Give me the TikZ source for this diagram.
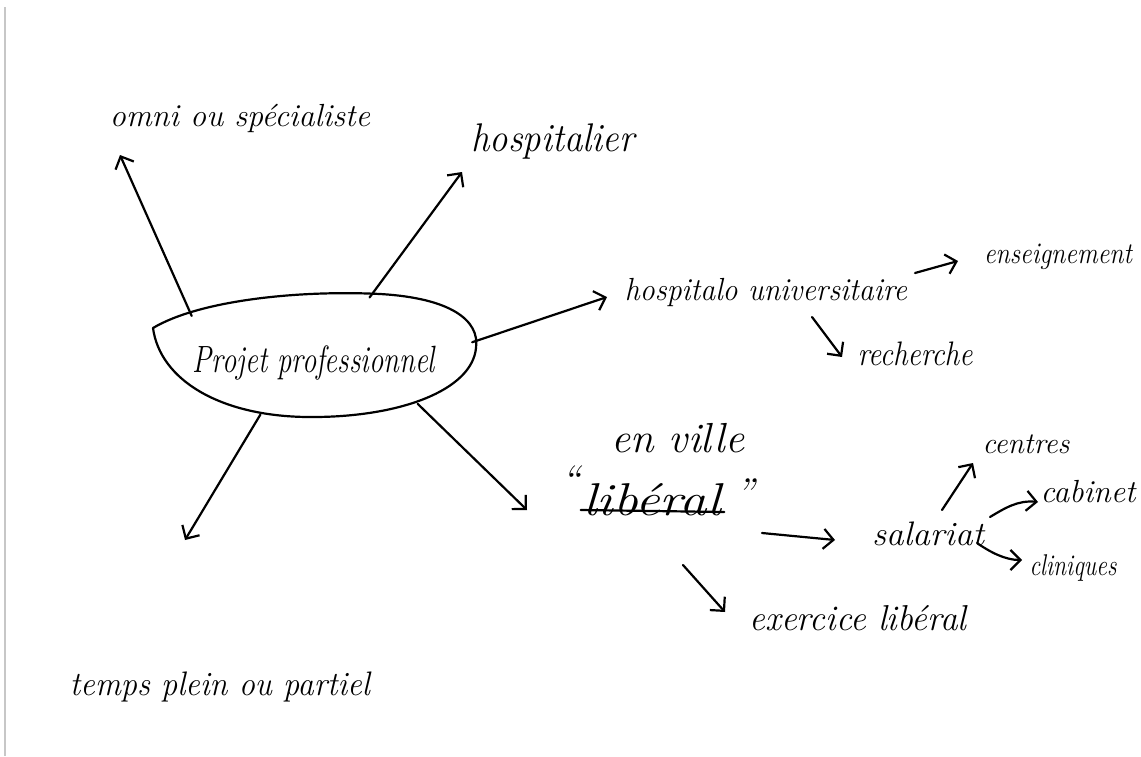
\documentclass[tikz,border=0pt]{standalone}
\usepackage{fontspec}
\usepackage{graphicx}
\usetikzlibrary{arrows.meta,calc,shapes.geometric}
% hand-lettered words: italic at a given size, squeezed to a given width
\newcommand{\hw}[3]{\resizebox{#1pt}{\height}{\fontsize{#2}{#2}\selectfont\itshape #3}}
\begin{document}
\begin{tikzpicture}[x=1pt,y=-1pt,
  ink/.style={line width=2.2pt, line cap=round, line join=round},
  arr/.style={ink, -{Straight Barb[length=10pt,width=20pt]}},
  lbl/.style={inner sep=0pt, anchor=base}]
\useasboundingbox (0,0) rectangle (1141,756);
% paper edge
\draw[black!22, line width=1.2pt] (5,7) -- (5,756);

% central bubble
\node[ellipse, minimum width=322pt, minimum height=124pt, inner sep=0pt] (proj) at (315,356) {};
\draw[ink] (153,328) .. controls (200,300) and (300,290) .. (380,294)
  .. controls (450,298) and (480,320) .. (476,348)
  .. controls (472,390) and (400,418) .. (307,417)
  .. controls (220,416) and (160,380) .. (153,328) -- cycle;
\node[lbl] (projtxt) at (314,372) {\hw{242}{38}{Projet professionnel}};

% labels
\node[lbl] (omni)  at (240,126) {\hw{260}{32}{omni ou spécialiste}};
\node[lbl] (hosp)  at (553,151) {\hw{163}{40}{hospitalier}};
\node[lbl] (huniv) at (766,300) {\hw{282}{32}{hospitalo universitaire}};
\node[lbl] (ens)   at (1058,263) {\hw{148}{30}{enseignement}};
\node[lbl] (rech)  at (915,365) {\hw{115}{34}{recherche}};
\node[lbl] (ville) at (678,452) {\hw{133}{42}{en ville}};
\node[lbl] (lib)   at (652,515) {\hw{138}{46}{libéral}};
\node[lbl] (qopen) at (571,493) {\fontsize{40}{40}\selectfont\itshape ``};
\node[lbl] (qclose) at (745,506) {\fontsize{40}{40}\selectfont\itshape ''};
\node[lbl] (sal)   at (928,545) {\hw{112}{34}{salariat}};
\node[lbl] (cent)  at (1026,453) {\hw{87}{30}{centres}};
\node[lbl] (cab)   at (1088,502) {\hw{95}{32}{cabinet}};
\node[lbl] (clin)  at (1073,575) {\hw{87}{30}{cliniques}};
\node[lbl] (exer)  at (858,630) {\hw{217}{36}{exercice libéral}};
\node[lbl] (temps) at (220,695) {\hw{300}{34}{temps plein ou partiel}};

% strike-through of "libéral"
\draw[ink] ($(lib.base west)+(-2,-5)$) -- ($(lib.base east)+(3,-3)$);

% arrow tips
\coordinate (tOmni) at (120,155);
\coordinate (tHosp) at (462,172);
\coordinate (tHU)   at (607,297);
\coordinate (tVille) at (527,510);
\coordinate (tTemps) at (185,540);
\coordinate (sEns) at (915,273);
\coordinate (tEns) at (958,261);
\coordinate (sRech) at (812,317);
\coordinate (tRech) at (842,357);
\coordinate (sSal) at (762,533);
\coordinate (tSal) at (835,540);
\coordinate (sExer) at (683,565);
\coordinate (tExer) at (725,612);
\coordinate (sCent) at (942,510);
\coordinate (tCent) at (973,463);
\coordinate (sCab) at (990,517);
\coordinate (tCab) at (1038,502);
\coordinate (sClin) at (977,543);
\coordinate (tClin) at (1022,560);

% branches from the bubble
\draw[arr] (proj.162) -- (tOmni);
\draw[arr] (proj.47) -- (tHosp);
\draw[arr] (proj.5) -- (tHU);
\draw[arr] (proj.-25) -- (tVille);
\draw[arr] (proj.-133) -- (tTemps);

% secondary branches
\draw[arr] (sEns) -- (tEns);
\draw[arr] (sRech) -- (tRech);
\draw[arr] (sSal) -- (tSal);
\draw[arr] (sExer) -- (tExer);
\draw[arr] (sCent) -- (tCent);
\draw[arr] (sCab) .. controls (1005,508) and (1018,500) .. (tCab);
\draw[arr] (sClin) .. controls (990,552) and (1005,560) .. (tClin);
\end{tikzpicture}
\end{document}
